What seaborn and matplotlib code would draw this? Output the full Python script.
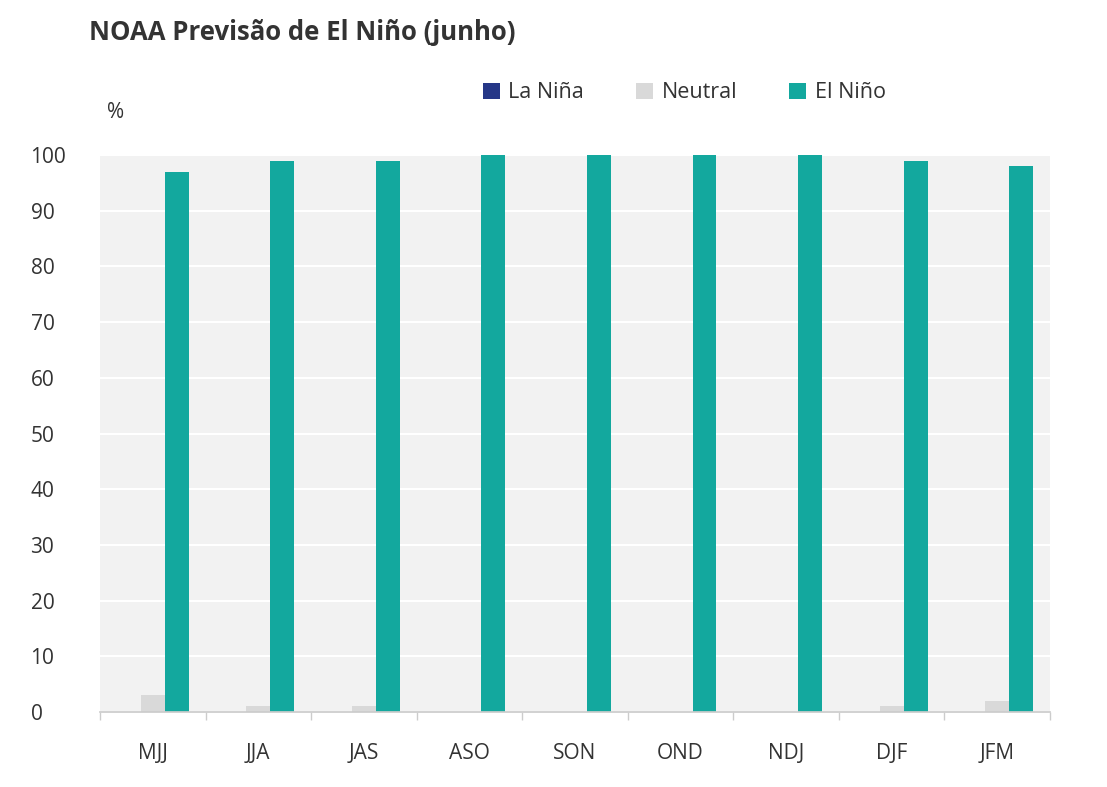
import matplotlib
matplotlib.use("Agg")
import matplotlib.pyplot as plt
import seaborn as sns
import pandas as pd
import numpy as np

categories = ["MJJ", "JJA", "JAS", "ASO", "SON", "OND", "NDJ", "DJF", "JFM"]
la_nina = [0, 0, 0, 0, 0, 0, 0, 0, 0]
neutral = [3, 1, 1, 0, 0, 0, 0, 1, 2]
el_nino = [97, 99, 99, 100, 100, 100, 100, 99, 98]
series = ["La Niña", "Neutral", "El Niño"]
colors = ["#253787", "#d9d9d9", "#13a89e"]

rows = []
for i, c in enumerate(categories):
    for s, vals in zip(series, [la_nina, neutral, el_nino]):
        rows.append({"cat": c, "series": s, "val": vals[i]})
df = pd.DataFrame(rows)

sns.set_theme(style="white")
plt.rcParams["font.family"] = ["Open Sans", "DejaVu Sans"]

fig = plt.figure(figsize=(11.07, 7.87), dpi=100)
ax = fig.add_axes([100/1107, 75/787, 950/1107, 557/787])
ax.set_facecolor("#f2f2f2")
sns.barplot(data=df, x="cat", y="val", hue="series", palette=colors,
            hue_order=series, order=categories, width=0.68, ax=ax,
            saturation=1, errorbar=None, linewidth=0)
ax.set_ylim(0, 100)
ax.set_xlim(-0.5, len(categories) - 0.5)
ax.set_yticks(range(0, 101, 10))
ax.yaxis.grid(True, color="white", linewidth=1.5)
ax.set_axisbelow(True)
for sp in ["top", "right", "left"]:
    ax.spines[sp].set_visible(False)
ax.spines["bottom"].set_color("#cccccc")
ax.set_xlabel("")
ax.set_ylabel("")
ax.tick_params(axis="y", length=0, labelsize=15, colors="#333333", pad=50)
ax.tick_params(axis="x", length=0, labelsize=15, colors="#333333", pad=22)
ax.set_xticks(np.arange(-0.5, len(categories)), minor=True)
ax.tick_params(axis="x", which="minor", bottom=True, length=6, width=1, color="#cccccc")
for t in ax.get_yticklabels():
    t.set_horizontalalignment("left")
fig.text(107/1107, 1 - 113/787, "%", fontsize=15, color="#333333", va="center")
fig.text(89/1107, 1 - 32/787, "NOAA Previsão de El Niño (junho)", fontsize=18.5,
         fontweight="bold", color="#333333", va="center")
ax.legend(loc="upper center", bbox_to_anchor=(0.615, 1.165), ncol=3, frameon=False,
          fontsize=15.5, handlelength=0.8, handleheight=0.8, columnspacing=2.4,
          handletextpad=0.4, labelcolor="#333333")
fig.savefig("out.png", dpi=100)
